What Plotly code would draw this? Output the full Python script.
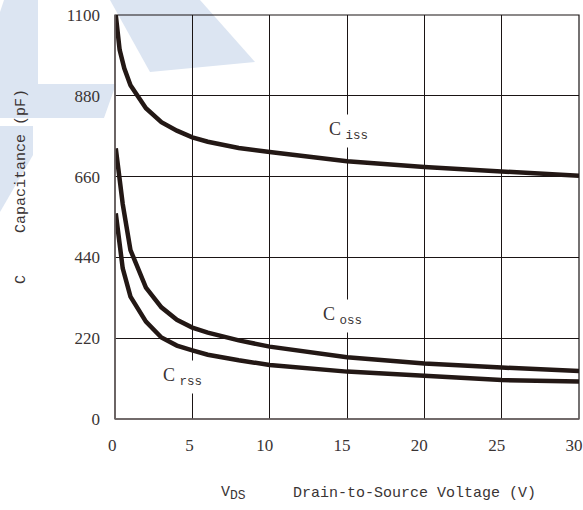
import plotly.graph_objects as go

# ---- data ----
v_ciss = [0.05, 0.3, 0.6, 1, 2, 3, 4, 5, 6, 8, 10, 15, 20, 25, 30]
c_iss = [1100, 1005, 955, 909, 846, 808, 785, 767, 755, 738, 727, 702, 686, 673, 662]

v_coss = [0.05, 0.3, 0.5, 1, 2, 3, 4, 5, 6, 8, 10, 15, 20, 25, 30]
c_oss = [737, 655, 585, 460, 358, 304, 270, 249, 235, 214, 197, 168, 151, 140, 131]

v_crss = [0.05, 0.3, 0.5, 1, 2, 3, 4, 5, 6, 8, 10, 15, 20, 25, 30]
c_rss = [560, 470, 410, 333, 265, 222, 200, 187, 175, 160, 147, 129, 118, 106, 102]

x_ticks = [0, 5, 10, 15, 20, 25, 30]
y_ticks = [0, 220, 440, 660, 880, 1100]

W, H = 583, 510
L, R, T, B = 115, 579, 15, 419

def px(x):
    return (x - L) / (R - L)

def py(y):
    return (B - y) / (B - T)

LINE = "#231815"
TXT = "#3a3434"
WM = "#dce5f2"
NB = "\u00a0"

fig = go.Figure()
for xs, ys in [(v_ciss, c_iss), (v_coss, c_oss), (v_crss, c_rss)]:
    fig.add_trace(go.Scatter(x=xs, y=ys, mode="lines",
                             line=dict(color=LINE, width=4.5),
                             showlegend=False, hoverinfo="skip"))

fig.update_layout(
    width=W, height=H,
    margin=dict(l=L, r=W - R, t=T, b=H - B, autoexpand=False),
    paper_bgcolor="white", plot_bgcolor="rgba(0,0,0,0)",
    showlegend=False,
)
x_text = [(NB if t < 10 else "") + str(t) for t in x_ticks]
fig.update_xaxes(range=[0, 30], tickvals=x_ticks, ticktext=x_text,
                 automargin=False,
                 showgrid=True, gridcolor="#1a1414", gridwidth=1,
                 zeroline=False, showline=False, ticks="",
                 ticklabelstandoff=14, ticklabelshift=-5, ticklabeloverflow="allow",
                 tickfont=dict(family="Liberation Serif", size=17, color=TXT))
fig.update_yaxes(range=[0, 1100], tickvals=y_ticks, ticktext=[str(t) for t in y_ticks],
                 automargin=False,
                 showgrid=True, gridcolor="#1a1414", gridwidth=1,
                 zeroline=False, showline=False, ticks="",
                 ticklabelstandoff=14,
                 tickfont=dict(family="Liberation Serif", size=17, color=TXT))

# watermark (light blue, behind everything)
def poly(pts):
    d = "M " + " L ".join(f"{px(a):.4f},{py(b):.4f}" for a, b in pts) + " Z"
    fig.add_shape(type="path", xref="paper", yref="paper", path=d,
                  fillcolor=WM, line=dict(width=0), layer="below")

poly([(4, 0), (38, 0), (38, 84), (116, 84), (104, 118), (0, 118), (0, 12)])
poly([(0, 126), (33, 126), (33, 155), (0, 212)])
poly([(110, 0), (200, 0), (255, 62), (150, 72)])

# frame
fig.add_shape(type="rect", xref="paper", yref="paper", x0=0, x1=1, y0=0, y1=1,
              line=dict(color="#1a1414", width=1.2), layer="above")
fig.add_shape(type="line", xref="paper", yref="paper", x0=0, x1=0, y0=0, y1=1,
              line=dict(color="#6a6262", width=1.6), layer="above")
fig.add_shape(type="line", xref="paper", yref="paper", x0=0, x1=1, y0=0, y1=0,
              line=dict(color="#6a6262", width=1.6), layer="above")

def subtxt(main, sub, size=12.5):
    return (f"{main} <sub><span style='font-family:Liberation Mono;"
            f"font-size:{size}px'>{sub}</span></sub>")

# curve labels
lab_font = dict(family="Liberation Serif", size=18, color=TXT)
for main, sub, cx, cy in [("C", "iss", 348, 131),
                          ("C", "oss", 342, 316),
                          ("C", "rss", 182, 377)]:
    fig.add_annotation(xref="paper", yref="paper", x=px(cx), y=py(cy),
                       xanchor="center", yanchor="middle",
                       text=subtxt(main, sub), showarrow=False, font=lab_font,
                       bgcolor="white", borderpad=4)

# axis titles
mono = dict(family="Liberation Mono", size=15, color=TXT)
fig.add_annotation(xref="paper", yref="paper", x=px(21), y=py(161),
                   xanchor="center", yanchor="middle",
                   text="Capacitance (pF)", textangle=-90, showarrow=False, font=mono)
fig.add_annotation(xref="paper", yref="paper", x=px(21), y=py(280),
                   xanchor="center", yanchor="middle",
                   text="C", textangle=-90, showarrow=False, font=mono)
fig.add_annotation(xref="paper", yref="paper", x=px(414), y=py(493),
                   xanchor="center", yanchor="middle",
                   text="Drain-to-Source Voltage (V)", showarrow=False, font=mono)
fig.add_annotation(xref="paper", yref="paper", x=px(233), y=py(493),
                   xanchor="center", yanchor="middle",
                   text="V<sub><span style='font-size:13px'>DS</span></sub>",
                   showarrow=False, font=mono)

fig.write_html("out.html")
